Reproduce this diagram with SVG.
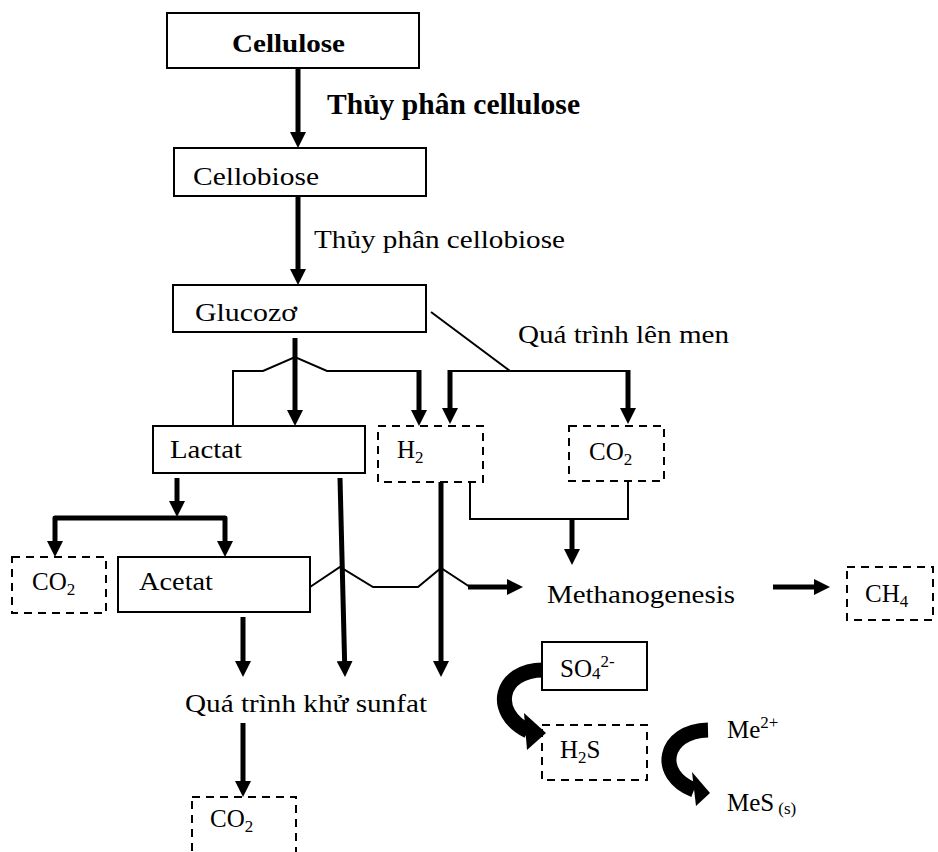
<svg xmlns="http://www.w3.org/2000/svg" width="938" height="852" viewBox="0 0 938 852">
<style>
text{font-family:"Liberation Serif","Times New Roman",serif;font-size:25px;fill:#000}
.b{font-weight:bold}
.big{font-size:29px}
.sub{font-size:17px}
.box{fill:#fff;stroke:#000;stroke-width:2}
.dbox{fill:none;stroke:#000;stroke-width:2;stroke-dasharray:8 6}
.thick{fill:none;stroke:#000;stroke-width:5}
.thin{fill:none;stroke:#000;stroke-width:2;stroke-linejoin:miter}
.curve{fill:none;stroke:#000;stroke-width:15}
</style>
<defs>
<marker id="ah" markerUnits="userSpaceOnUse" markerWidth="16" markerHeight="16" viewBox="0 0 16 16" refX="8" refY="8" orient="auto">
<path d="M0,0 L16,8 L0,16 z" fill="#000"/>
</marker>
</defs>
<rect width="938" height="852" fill="#fff"/>

<g id="connectors">
<line class="thick" x1="298" y1="68" x2="298" y2="140" marker-end="url(#ah)"/>
<line class="thick" x1="298" y1="196" x2="298" y2="277" marker-end="url(#ah)"/>
<line class="thick" x1="295" y1="338" x2="295" y2="418" marker-end="url(#ah)"/>
<polyline class="thin" points="233,426 233,371 263,371 295,357 327,371 419,371"/>
<line class="thick" x1="419" y1="370" x2="419" y2="418" marker-end="url(#ah)"/>
<line class="thin" x1="431" y1="312" x2="510" y2="371"/>
<line class="thin" x1="448" y1="371" x2="630" y2="371"/>
<line class="thick" x1="450" y1="370" x2="450" y2="416" marker-end="url(#ah)"/>
<line class="thick" x1="628" y1="370" x2="628" y2="416" marker-end="url(#ah)"/>
<line class="thick" x1="177" y1="478" x2="177" y2="509" marker-end="url(#ah)"/>
<path class="thick" d="M177,518 H55 V549" stroke-linejoin="round" marker-end="url(#ah)"/>
<path class="thick" d="M177,518 H225 V549" stroke-linejoin="round" marker-end="url(#ah)"/>
<line class="thick" x1="340" y1="478" x2="344.8" y2="669" marker-end="url(#ah)"/>
<line class="thick" x1="441" y1="482" x2="441" y2="669" marker-end="url(#ah)"/>
<line class="thick" x1="243" y1="617" x2="243" y2="669" marker-end="url(#ah)"/>
<polyline class="thin" points="310,587 340,567 373,587 418,587 441,568 470,587"/>
<line class="thick" x1="468" y1="587" x2="515" y2="587" marker-end="url(#ah)"/>
<polyline class="thin" points="470,482 470,519 628,519 628,481"/>
<line class="thick" x1="572" y1="519" x2="572" y2="557" marker-end="url(#ah)"/>
<line class="thick" x1="773" y1="587" x2="822" y2="587" marker-end="url(#ah)"/>
<line class="thick" x1="243" y1="723" x2="243" y2="789" marker-end="url(#ah)"/>
<path class="curve" d="M543,670 C500,670 490,712 528,731"/>
<polygon points="524,713 546,733 527,750" fill="#000"/>
<path class="curve" d="M708,730 C663,731 655,775 694,790"/>
<polygon points="692,772 710,793 696,806" fill="#000"/>
</g>

<g id="cellulose"><rect class="box" x="167" y="13" width="252" height="55"/><text class="b" x="232" y="52" textLength="113" lengthAdjust="spacingAndGlyphs">Cellulose</text></g>
<g id="label-thuy-phan-cellulose"><text class="b big" x="327" y="114" textLength="253" lengthAdjust="spacingAndGlyphs">Thủy phân cellulose</text></g>
<g id="cellobiose"><rect class="box" x="174" y="148" width="252" height="48"/><text x="193" y="185" textLength="126" lengthAdjust="spacingAndGlyphs">Cellobiose</text></g>
<g id="label-thuy-phan-cellobiose"><text x="314" y="248" textLength="251" lengthAdjust="spacingAndGlyphs">Thủy phân cellobiose</text></g>
<g id="glucozo"><rect class="box" x="173" y="285" width="253" height="47"/><text x="195" y="321" textLength="102" lengthAdjust="spacingAndGlyphs">Glucozơ</text></g>
<g id="label-len-men"><text x="518" y="343" textLength="211" lengthAdjust="spacingAndGlyphs">Quá trình lên men</text></g>
<g id="lactat"><rect class="box" x="153" y="426" width="212" height="47"/><text x="170" y="458" textLength="72" lengthAdjust="spacingAndGlyphs">Lactat</text></g>
<g id="h2"><rect class="dbox" x="378" y="426" width="105" height="56"/><text x="397" y="458">H<tspan class="sub" dy="5">2</tspan></text></g>
<g id="co2-top"><rect class="dbox" x="569" y="426" width="95" height="55"/><text x="589" y="460">CO<tspan class="sub" dy="5">2</tspan></text></g>
<g id="co2-left"><rect class="dbox" x="12" y="557" width="94" height="56"/><text x="32" y="590">CO<tspan class="sub" dy="5">2</tspan></text></g>
<g id="acetat"><rect class="box" x="118" y="557" width="192" height="55"/><text x="139" y="590" textLength="74" lengthAdjust="spacingAndGlyphs">Acetat</text></g>
<g id="methanogenesis"><text x="547" y="603" textLength="188" lengthAdjust="spacingAndGlyphs">Methanogenesis</text></g>
<g id="ch4"><rect class="dbox" x="847" y="567" width="86" height="53"/><text x="865" y="602">CH<tspan class="sub" dy="5">4</tspan></text></g>
<g id="khu-sunfat"><text x="185" y="712" textLength="242" lengthAdjust="spacingAndGlyphs">Quá trình khử sunfat</text></g>
<g id="co2-bottom"><rect class="dbox" x="192" y="797" width="104" height="70"/><text x="210" y="827">CO<tspan class="sub" dy="5">2</tspan></text></g>
<g id="so4"><rect class="box" x="542" y="642" width="105" height="48"/><text x="560" y="677">SO<tspan class="sub" dy="2">4</tspan><tspan class="sub" dy="-12">2-</tspan></text></g>
<g id="h2s"><rect class="dbox" x="542" y="725" width="105" height="55"/><text x="560" y="758">H<tspan class="sub" dy="5">2</tspan><tspan dy="-5">S</tspan></text></g>
<g id="me2"><text x="727" y="738">Me<tspan class="sub" dy="-10">2+</tspan></text></g>
<g id="mes"><text x="727" y="811">MeS<tspan class="sub" dx="4" dy="3">(s)</tspan></text></g>
</svg>
